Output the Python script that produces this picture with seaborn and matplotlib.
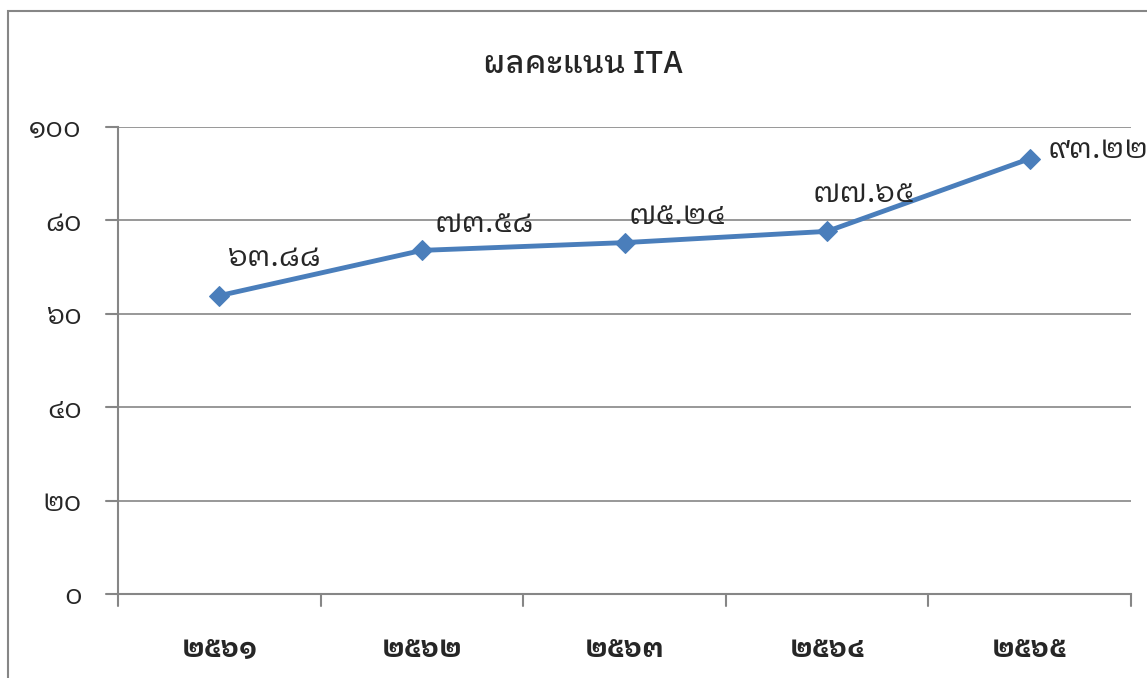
import seaborn as sns
import pandas as pd
import matplotlib.pyplot as plt
from matplotlib.patches import Rectangle

years = ['๒๕๖๑', '๒๕๖๒', '๒๕๖๓', '๒๕๖๔', '๒๕๖๕']
scores = [63.88, 73.58, 75.24, 77.65, 93.22]
score_labels = ['๖๓.๘๘', '๗๓.๕๘', '๗๕.๒๔', '๗๗.๖๕', '๙๓.๒๒']
ytick_vals = [0, 20, 40, 60, 80, 100]
ytick_labels = ['๐', '๒๐', '๔๐', '๖๐', '๘๐', '๑๐๐']

# label offsets (pixels) like excel placed them
label_off = [(9, 30), (13, 18), (4, 19), (-15, 29), (18, 1)]

sns.set_style('white')
plt.rcParams['font.family'] = ['IBM Plex Sans Thai Looped', 'Liberation Sans', 'DejaVu Sans']

df = pd.DataFrame({'year': years, 'score': scores})

fig = plt.figure(figsize=(11.47, 6.78), dpi=100)
ax = fig.add_axes([0.1029, 0.1239, 0.8832, 0.6888])

sns.lineplot(data=df, x='year', y='score', ax=ax, color='#4a7ebb', linewidth=3.5,
             marker='D', markersize=10, markeredgecolor='#4a7ebb', sort=False)

ax.set_xlim(-0.5, 4.5)
ax.set_ylim(0, 100)
ax.set_yticks(ytick_vals)
ax.set_yticklabels(ytick_labels, fontsize=20)
ax.set_xticks(range(len(years)))
ax.set_xticklabels(years, fontsize=20, fontweight='bold')
ax.tick_params(axis='x', length=0, pad=30)
ax.tick_params(axis='y', length=0, pad=26)
ax.set_xlabel('')
ax.set_ylabel('')
ax.grid(axis='y', color='#868686', linewidth=1.2)
for s in ['top', 'right']:
    ax.spines[s].set_visible(False)
for s in ['left', 'bottom']:
    ax.spines[s].set_color('#868686')
    ax.spines[s].set_linewidth(1.5)
# tick marks between categories
for xb in [-0.5, 0.5, 1.5, 2.5, 3.5, 4.5]:
    ax.plot([xb, xb], [0, -2.5], color='#868686', lw=1.5, clip_on=False)
for yv in ytick_vals:
    ax.plot([-0.56, -0.5], [yv, yv], color='#868686', lw=1.5, clip_on=False)

for i, (v, lab) in enumerate(zip(scores, score_labels)):
    dx, dy = label_off[i]
    ax.annotate(lab, (i, v), xytext=(dx * 0.72, dy * 0.72), textcoords='offset points',
                fontsize=22, ha='left', va='baseline')

fig.text(0.508, 0.905, 'ผลคะแนน ITA', fontsize=22, fontweight='medium', ha='center', va='center')

fig.patches.append(Rectangle((8 / 1147, -0.05), 1.2, 1 - 11 / 678 + 0.05,
                             transform=fig.transFigure, fill=False,
                             edgecolor='#868686', linewidth=1.5))

fig.savefig('out.png', dpi=100, facecolor='w')
